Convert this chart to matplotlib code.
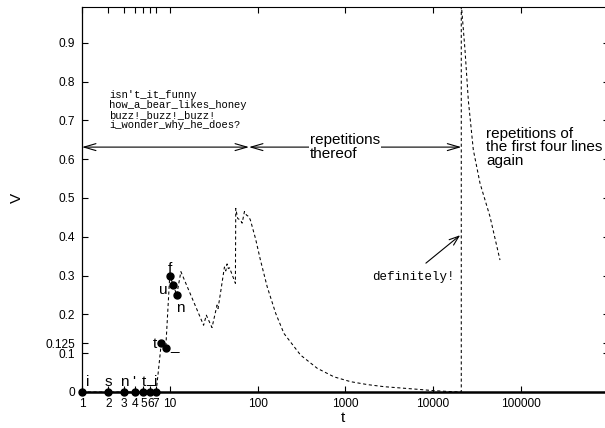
import numpy as np
import matplotlib
matplotlib.use("Agg")
import matplotlib.pyplot as plt
from matplotlib.patches import FancyArrowPatch
from matplotlib.ticker import NullLocator

plt.rcParams['font.family'] = ['Liberation Sans', 'DejaVu Sans']
MONO = ['Liberation Mono', 'DejaVu Sans Mono']

# --- data ---
t = [1, 2, 3, 4, 5, 6, 7, 8, 9, 10, 11, 12,
     13.4, 24.3, 26.1, 30.3, 34.6, 35.5, 37.8, 42, 43.5, 45, 46.5, 48, 56,
     56.5, 59.5, 64, 66.8, 71, 74.8, 79.5, 83,
     95, 108, 129, 161, 200, 310, 480, 745, 1150, 1800, 2770, 6640, 10300, 16000,
     21000, 21000, 23160, 25260, 28800, 34330, 44620, 58000]
V = [0, 0, 0, 0, 0, 0, 0, 0.125, 0.1125, 0.3, 0.275, 0.25,
     0.31, 0.172, 0.198, 0.166, 0.224, 0.215, 0.254, 0.322, 0.312, 0.33, 0.318, 0.32, 0.28,
     0.473, 0.447, 0.443, 0.435, 0.465, 0.456, 0.452, 0.443,
     0.395, 0.34, 0.271, 0.203, 0.151, 0.095, 0.061, 0.039, 0.0266, 0.019, 0.0137, 0.007, 0.0034, 0.001,
     0.0, 1.0, 0.881, 0.752, 0.624, 0.538, 0.452, 0.34]

letters = ["i", "s", "n", "'", "t", "_", "i", "t", "_", "f", "u", "n"]
# label offsets from their point, in pixels (x right, y up)
letter_offsets = [(5.5, 6), (0, 6), (0, 6), (-1, 6), (0.5, 6), (0, 8.5), (0, 6),
                  (-6.5, -4.7), (8.5, -1.2), (0, 2.7), (-10.4, -9), (3.8, -17.4)]

xticks = [1, 2, 3, 4, 5, 6, 7, 10, 100, 1000, 10000, 100000]
yticks = [0, 0.1, 0.125, 0.2, 0.3, 0.4, 0.5, 0.6, 0.7, 0.8, 0.9]
ytick_labels = ["0", "0.1", "0.125", "0.2", "0.3", "0.4", "0.5", "0.6", "0.7", "0.8", "0.9"]

verse = "isn't_it_funny\nhow_a_bear_likes_honey\nbuzz!_buzz!_buzz!\ni_wonder_why_he_does?"

# --- plotting ---
fig = plt.figure(figsize=(6.05, 4.28), dpi=100)
ax = fig.add_axes([82 / 605, 36 / 428, (608.5 - 82) / 605, (392 - 7) / 428])

ax.plot(t, V, color='black', lw=0.75, linestyle=(0, (3, 2.5)), zorder=3)
n_pts = len(letters)
ax.plot(t[:n_pts], V[:n_pts], 'o', color='black', ms=5, zorder=4, clip_on=False)

for i, ch in enumerate(letters):
    ax.annotate(ch, xy=(t[i], V[i]), xytext=letter_offsets[i], textcoords='offset pixels',
                ha='center', va='baseline', fontsize=11)

ax.set_xscale('log')
ax.set_xlim(1, 1e6)
ax.set_ylim(0, 0.992)
ax.set_xticks(xticks)
ax.set_xticklabels([str(x) for x in xticks])
ax.xaxis.set_minor_locator(NullLocator())
ax.set_yticks(yticks)
ax.set_yticklabels(ytick_labels)
ax.tick_params(direction='in', length=4.5, width=0.8, top=True, right=True,
               labelsize=8.6, colors='black')
ax.tick_params(axis='x', pad=4)
ax.tick_params(axis='y', pad=5)
ax.spines['right'].set_visible(False)
ax.spines['bottom'].set_linewidth(1.8)
ax.spines['left'].set_linewidth(0.9)
ax.spines['top'].set_linewidth(0.8)

# axis labels
fig.text(17 / 605, 1 - 198 / 428, "V", rotation=90, ha='center', va='center', fontsize=11)
fig.text(343 / 605, 1 - 418 / 428, "t", ha='center', va='center', fontsize=11)

# verse text
ax.text(2.03, 0.778, verse, family=MONO, fontsize=7.6, ha='left', va='top', linespacing=1.0)

# arrows
arrow_y = 0.631
for a, b in [(1, 80), (80, 21000)]:
    ax.add_patch(FancyArrowPatch((a, arrow_y), (b, arrow_y), arrowstyle='<->,head_length=8.6,head_width=2.5',
                                 mutation_scale=1, shrinkA=0, shrinkB=0, lw=0.8, color='black', zorder=2))
ax.add_patch(FancyArrowPatch((8300, 0.332), (20400, 0.404), arrowstyle='->,head_length=7,head_width=2.5',
                             mutation_scale=1, shrinkA=0, shrinkB=0, lw=0.8, color='black', zorder=2))

ax.text(396, 0.667, "repetitions\nthereof", fontsize=11, ha='left', va='top', linespacing=0.95,
        bbox=dict(facecolor='white', edgecolor='none', pad=1), zorder=5)
ax.text(40180, 0.683, "repetitions of\nthe first four lines\nagain", fontsize=11, ha='left', va='top',
        linespacing=0.95, zorder=5)
ax.text(2000, 0.2886, "definitely!", family=MONO, fontsize=9, ha='left', va='baseline')

fig.savefig("out.png", dpi=100)
